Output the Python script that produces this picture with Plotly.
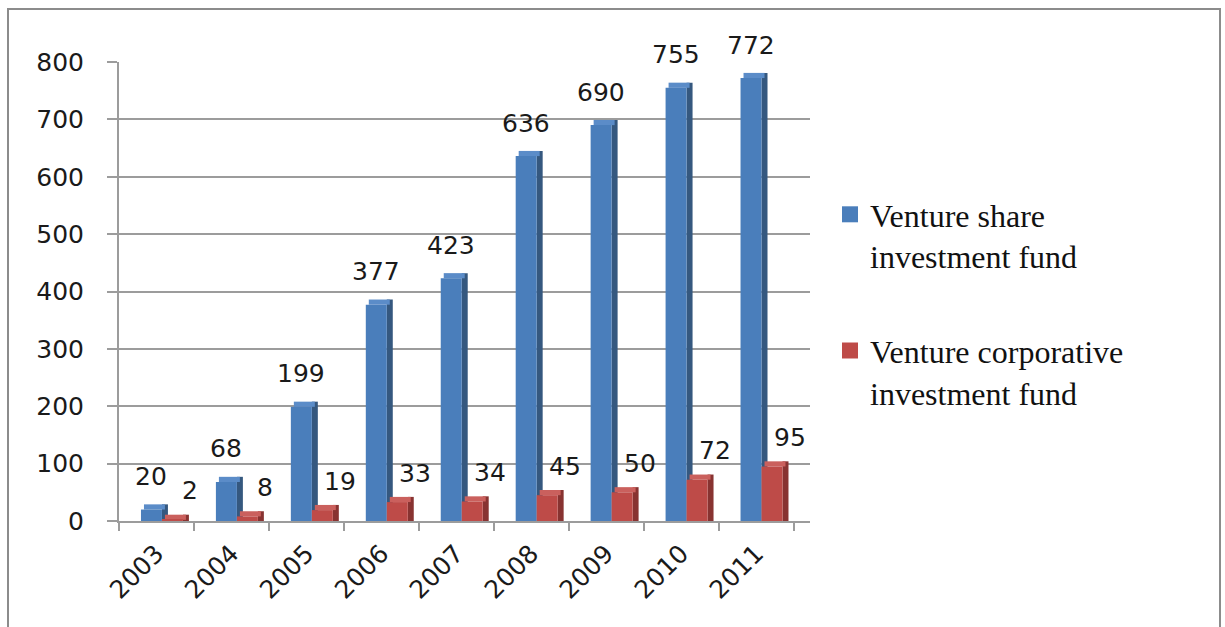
import plotly.graph_objects as go

# ---------------- data ----------------
years = ["2003", "2004", "2005", "2006", "2007", "2008", "2009", "2010", "2011"]
share_fund = [20, 68, 199, 377, 423, 636, 690, 755, 772]
corporative_fund = [2, 8, 19, 33, 34, 45, 50, 72, 95]
series_names = ["Venture share<br>investment fund", "Venture corporative<br>investment fund"]
y_ticks = [0, 100, 200, 300, 400, 500, 600, 700, 800]

# ---------------- style ----------------
W, H = 1225, 627
L, R, T, B = 119, 810, 62, 521          # plot area in pixels
BLUE, BLUE_SIDE, BLUE_TOP = "#4A7EBB", "#35587F", "#5B8CC8"
RED, RED_SIDE, RED_TOP = "#BE4B48", "#883331", "#CA605D"
GRID = "#9C9C9C"
TICK_FONT = dict(family="DejaVu Sans", size=25, color="#1a1a1a")
LABEL_FONT = dict(family="DejaVu Sans", size=25, color="#1a1a1a")
BAR_W = 0.28
BLUE_OFF, RED_OFF = -0.207, 0.073
SIDE_W = 0.08
DEPTH = 9   # visual depth of the pseudo-3D top in axis units


def px_x(px):
    return (px - L) / (R - L)


def px_y(py):
    return (B - py) / (B - T)


fig = go.Figure()


def add_series(values, front, side, top, off):
    # side face
    fig.add_trace(go.Bar(x=years, y=[v + DEPTH for v in values], offset=off + BAR_W, width=SIDE_W,
                         marker=dict(color=side, line=dict(width=0)), showlegend=False, hoverinfo="skip"))
    # top face
    fig.add_trace(go.Bar(x=years, y=[DEPTH] * len(values), base=values, offset=off + SIDE_W / 2, width=BAR_W,
                         marker=dict(color=top, line=dict(width=0)), showlegend=False, hoverinfo="skip"))
    # front face
    fig.add_trace(go.Bar(x=years, y=values, offset=off, width=BAR_W,
                         marker=dict(color=front, line=dict(width=0)), showlegend=False))


add_series(share_fund, BLUE, BLUE_SIDE, BLUE_TOP, BLUE_OFF)
add_series(corporative_fund, RED, RED_SIDE, RED_TOP, RED_OFF)

# legend entries
for name, col, grp in [(series_names[0], BLUE, "a"), (series_names[1], RED, "b")]:
    fig.add_trace(go.Scatter(x=[None], y=[None], mode="markers", name=name, legendgroup=grp,
                             marker=dict(symbol="square", size=16, color=col)))

# data labels
annotations = []
for i, yr in enumerate(years):
    annotations.append(dict(xref="x", yref="y", x=i, y=share_fund[i], text=str(share_fund[i]),
                            showarrow=False, xanchor="center", yanchor="middle",
                            xshift=-5, yshift=33, font=dict(LABEL_FONT)))
    annotations.append(dict(xref="x", yref="y", x=i, y=corporative_fund[i], text=str(corporative_fund[i]),
                            showarrow=False, xanchor="center", yanchor="middle",
                            xshift=34, yshift=29, font=dict(LABEL_FONT)))

fig.update_layout(
    width=W, height=H,
    margin=dict(l=L, r=W - R, t=T, b=H - B, pad=0),
    paper_bgcolor="white", plot_bgcolor="white",
    barmode="overlay",
    legend=dict(x=px_x(830), y=px_y(187), xanchor="left", yanchor="top",
                font=dict(family="Liberation Serif", size=32, color="#111111"),
                valign="top", tracegroupgap=50, bgcolor="rgba(0,0,0,0)"),
    shapes=[dict(type="rect", xref="paper", yref="paper",
                 x0=px_x(8), x1=px_x(1220), y0=px_y(660), y1=px_y(9),
                 line=dict(color="#8C8C8C", width=2), fillcolor="rgba(0,0,0,0)", layer="below")],
    xaxis=dict(type="category", range=[-0.5, 8.72], showgrid=False,
               showline=True, linecolor=GRID, linewidth=2,
               ticks="outside", tickson="boundaries", ticklen=8, tickcolor=GRID, tickwidth=2,
               tickangle=-45, tickfont=TICK_FONT, ticklabelstandoff=6),
    yaxis=dict(range=[0, 800], tickvals=y_ticks, showgrid=True, gridcolor=GRID, gridwidth=1.5,
               zeroline=False, showline=True, linecolor=GRID, linewidth=2,
               ticks="outside", ticklen=10, tickcolor=GRID, tickwidth=2,
               tickfont=TICK_FONT, ticklabelstandoff=18),
)
for a in annotations:
    fig.add_annotation(**a)

fig.write_html("out.html")
